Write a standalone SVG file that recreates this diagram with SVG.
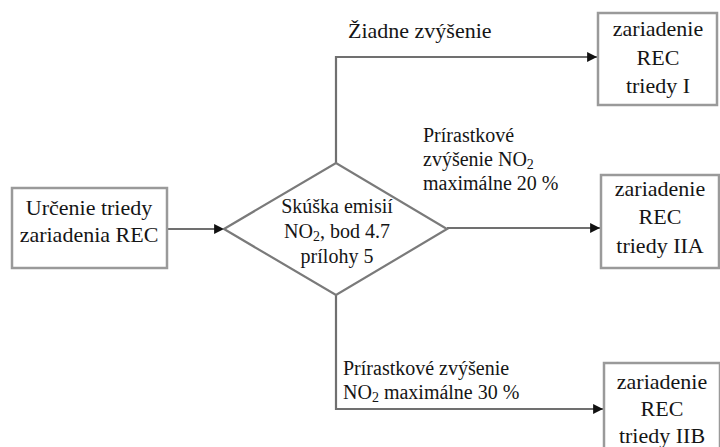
<svg xmlns="http://www.w3.org/2000/svg" width="720" height="447" viewBox="0 0 720 447">
<defs>
<style>
.box{fill:#fff;stroke:#9a9a9a;stroke-width:2.5}
.ln{fill:none;stroke:#707070;stroke-width:2.2}
.t{font-family:'Liberation Serif',serif;fill:#151515}
.b{font-size:22px;text-anchor:middle}
.l{font-size:20px}
.c{text-anchor:middle}
.s{font-size:14px}
</style>
<marker id="ah" viewBox="0 0 10 10" refX="10" refY="5" markerWidth="4.5" markerHeight="4.5" orient="auto" markerUnits="strokeWidth">
<path d="M0,0 L10,5 L0,10 z" fill="#111"/>
</marker>
</defs>
<rect width="720" height="447" fill="#fff"/>
<g id="connectors">
<line class="ln" x1="167" y1="229" x2="224" y2="229" marker-end="url(#ah)"/>
<polyline class="ln" points="336,163 336,57 597,57" marker-end="url(#ah)"/>
<line class="ln" x1="447" y1="228" x2="600" y2="228" marker-end="url(#ah)"/>
<polyline class="ln" points="336,295 336,409 603,409" marker-end="url(#ah)"/>
</g>
<g id="start">
<rect class="box" x="12" y="188" width="155" height="80"/>
<text class="t b" x="89" y="215">Určenie triedy</text>
<text class="t b" x="89" y="242">zariadenia REC</text>
</g>
<g id="decision">
<polygon points="224,229 336,163 447,229 336,295" fill="#fff" stroke="#7a7a7a" stroke-width="2.2"/>
<text class="t l c" x="337" y="213">Skúška emisií</text>
<text class="t l c" x="337" y="238">NO<tspan class="s" dy="3">2</tspan><tspan dy="-3">, bod 4.7</tspan></text>
<text class="t l c" x="337" y="263">prílohy 5</text>
</g>
<g id="classI">
<rect class="box" x="598" y="13" width="119" height="92"/>
<text class="t b" x="658" y="36">zariadenie</text>
<text class="t b" x="658" y="65">REC</text>
<text class="t b" x="658" y="93">triedy I</text>
</g>
<g id="classIIA">
<rect class="box" x="601" y="175" width="118" height="93"/>
<text class="t b" x="660" y="196">zariadenie</text>
<text class="t b" x="660" y="224">REC</text>
<text class="t b" x="660" y="253">triedy IIA</text>
</g>
<g id="classIIB">
<rect class="box" x="604" y="363" width="116" height="100"/>
<text class="t b" x="662" y="389">zariadenie</text>
<text class="t b" x="662" y="416">REC</text>
<text class="t b" x="662" y="443">triedy IIB</text>
</g>
<g id="labels">
<text class="t" x="348" y="38" font-size="22">Žiadne zvýšenie</text>
<text class="t l" x="423" y="142">Prírastkové</text>
<text class="t l" x="423" y="166">zvýšenie NO<tspan class="s" dy="3">2</tspan></text>
<text class="t l" x="423" y="190">maximálne 20 %</text>
<text class="t l" x="343" y="375">Prírastkové zvýšenie</text>
<text class="t l" x="343" y="399">NO<tspan class="s" dy="3">2</tspan><tspan dy="-3"> maximálne 30 %</tspan></text>
</g>
</svg>
